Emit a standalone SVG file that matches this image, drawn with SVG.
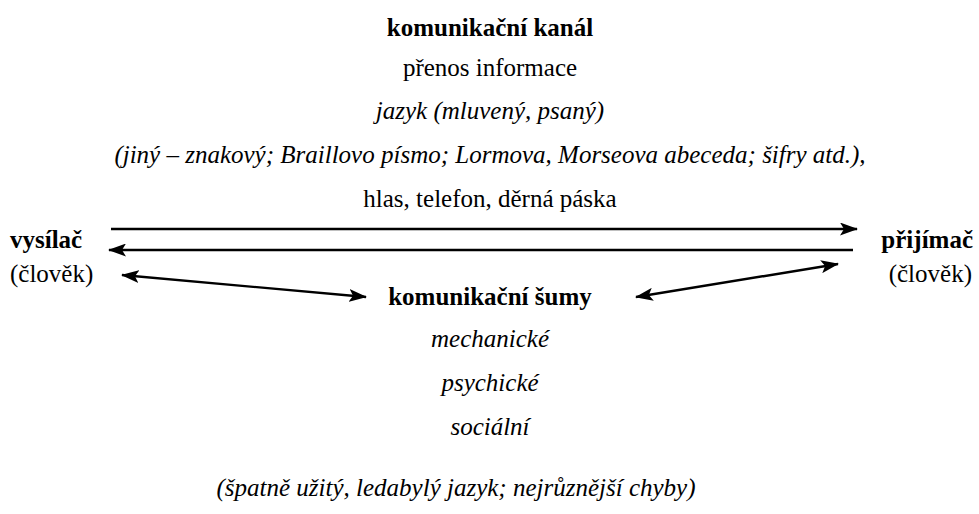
<svg xmlns="http://www.w3.org/2000/svg" width="979" height="514" viewBox="0 0 979 514">
<style>
text{font-family:"Liberation Serif","Times New Roman",Times,serif;font-size:25px;fill:#000}
.b{font-weight:bold}
.i{font-style:italic}
.c{text-anchor:middle}
.e{text-anchor:end}
.ln{stroke:#000;stroke-width:2.4;fill:none}
</style>
<defs>
<marker id="ah" viewBox="0 0 18 13" refX="17" refY="6.5" markerWidth="18" markerHeight="13" markerUnits="userSpaceOnUse" orient="auto-start-reverse">
<path d="M0,0 L18,6.5 L0,13 L4,6.5 Z" fill="#000"/>
</marker>
</defs>
<rect width="979" height="514" fill="#fff"/>
<g id="channel">
<text class="b c" x="490" y="36" font-family="Liberation Serif, serif">komunikační kanál</text>
<text class="c" x="490" y="76" font-family="Liberation Serif, serif">přenos informace</text>
<text class="i c" x="490" y="119" font-family="Liberation Serif, serif">jazyk (mluvený, psaný)</text>
<text class="i c" x="490" y="163" font-family="Liberation Serif, serif">(jiný – znakový; Braillovo písmo; Lormova, Morseova abeceda; šifry atd.),</text>
<text class="c" x="490" y="207" font-family="Liberation Serif, serif">hlas, telefon, děrná páska</text>
</g>
<g id="sender">
<text class="b" x="10" y="248" font-family="Liberation Serif, serif">vysílač</text>
<text x="10" y="282" font-family="Liberation Serif, serif">(člověk)</text>
</g>
<g id="receiver">
<text class="b e" x="973" y="248" font-family="Liberation Serif, serif">přijímač</text>
<text class="e" x="972" y="282" font-family="Liberation Serif, serif">(člověk)</text>
</g>
<g id="noise">
<text class="b c" x="490" y="305" font-family="Liberation Serif, serif">komunikační šumy</text>
<text class="i c" x="490" y="347" font-family="Liberation Serif, serif">mechanické</text>
<text class="i c" x="490" y="391" font-family="Liberation Serif, serif">psychické</text>
<text class="i c" x="490" y="435" font-family="Liberation Serif, serif">sociální</text>
<text class="i c" x="456" y="496" font-family="Liberation Serif, serif">(špatně užitý, ledabylý jazyk; nejrůznější chyby)</text>
</g>
<g id="connectors">
<line class="ln" x1="111" y1="229" x2="857" y2="229" marker-end="url(#ah)"/>
<line class="ln" x1="853" y1="250" x2="109" y2="250" marker-end="url(#ah)"/>
<line class="ln" x1="122" y1="275" x2="366" y2="297" marker-start="url(#ah)" marker-end="url(#ah)"/>
<line class="ln" x1="636" y1="297" x2="838" y2="264" marker-start="url(#ah)" marker-end="url(#ah)"/>
</g>
</svg>
